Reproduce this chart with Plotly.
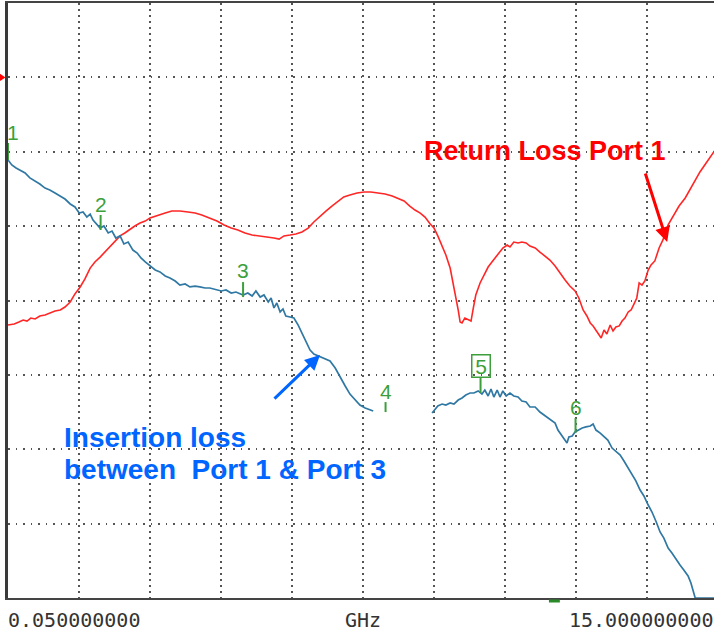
import plotly.graph_objects as go

# ---------------- data (GHz, dB) ----------------
ins_freq = [0.05, 0.13, 0.22, 0.30, 0.41, 0.51, 0.62, 0.72, 0.83, 0.93,
            1.04, 1.15, 1.25, 1.36, 1.46, 1.55, 1.63, 1.71, 1.78, 1.84,
            1.92, 1.99, 2.07, 2.16, 2.24, 2.32, 2.41, 2.49, 2.58, 2.68,
            2.77, 2.85, 2.94, 3.04, 3.15, 3.25, 3.36, 3.46, 3.57, 3.67,
            3.78, 3.88, 3.99, 4.09, 4.20, 4.30, 4.41, 4.54, 4.64, 4.75,
            4.85, 5.00, 5.10, 5.19, 5.27, 5.36, 5.44, 5.53, 5.59, 5.65,
            5.71, 5.78, 5.84, 5.90, 5.99, 6.07, 6.16, 6.24, 6.33, 6.41,
            6.49, 6.58, 6.70, 6.83, 6.94, 7.04, 7.15, 7.25, 7.36, 7.46,
            7.57, 7.67, 7.74, 8.30,
            8.98, 9.04, 9.10, 9.19, 9.27, 9.36, 9.44, 9.53, 9.61, 9.69,
            9.78, 9.86, 9.95, 10.03, 10.09, 10.16, 10.22, 10.28, 10.35, 10.41,
            10.47, 10.54, 10.62, 10.70, 10.79, 10.87, 10.96, 11.04, 11.15, 11.25,
            11.36, 11.46, 11.57, 11.63, 11.72, 11.78, 11.82, 11.86, 11.93, 11.99,
            12.05, 12.14, 12.22, 12.31, 12.37, 12.43, 12.52, 12.60, 12.68, 12.77,
            12.85, 12.94, 13.02, 13.11, 13.19, 13.27, 13.36, 13.44, 13.53, 13.61,
            13.70, 13.78, 13.86, 13.95, 14.03, 14.12, 14.20, 14.28, 14.37, 14.43,
            14.47, 14.52, 15.00]
ins_db = [-5.55, -5.89, -6.09, -6.23, -6.43, -6.76, -6.97, -7.17, -7.44, -7.57,
          -7.77, -7.97, -8.18, -8.51, -8.71, -9.12, -9.05, -9.39, -9.19, -9.59,
          -9.86, -10.13, -9.99, -10.46, -10.33, -10.80, -10.66, -11.20, -11.07, -11.61,
          -11.81, -12.14, -12.41, -12.68, -12.95, -13.08, -13.35, -13.49, -13.69, -13.96,
          -13.89, -14.09, -14.03, -14.09, -14.16, -14.16, -14.23, -14.36, -14.29, -14.50,
          -14.43, -14.63, -14.50, -14.70, -14.36, -14.77, -14.63, -15.10, -14.83, -15.50,
          -15.17, -15.77, -15.57, -16.04, -16.11, -16.18, -16.65, -17.18, -17.79, -18.33,
          -18.60, -18.73, -18.87, -19.07, -19.54, -20.14, -20.75, -21.29, -21.69, -22.03,
          -22.23, -22.36, -22.43, None,
          -22.56, -22.29, -22.09, -21.96, -22.03, -21.89, -21.96, -21.69, -21.55, -21.35,
          -21.22, -21.22, -21.08, -21.29, -21.02, -21.42, -20.95, -21.49, -21.02, -21.49,
          -21.08, -21.42, -21.22, -21.42, -21.49, -21.76, -21.82, -22.16, -22.16, -22.50,
          -22.76, -22.97, -23.24, -23.71, -24.11, -24.38, -24.58, -24.18, -24.11, -23.84,
          -23.71, -23.57, -23.50, -23.44, -23.30, -23.71, -23.91, -24.18, -24.38, -24.92,
          -25.12, -25.39, -25.79, -26.26, -26.73, -27.13, -27.74, -28.14, -28.75, -29.22,
          -29.89, -30.56, -30.97, -31.64, -31.97, -32.45, -32.78, -33.12, -33.52, -33.99,
          -34.46, -35.00, -35.00]

rl_freq = [0.05, 0.18, 0.28, 0.37, 0.45, 0.53, 0.62, 0.72, 0.83, 0.93,
           1.04, 1.15, 1.25, 1.36, 1.46, 1.57, 1.67, 1.78, 1.88, 1.99,
           2.09, 2.20, 2.30, 2.41, 2.51, 2.62, 2.72, 2.83, 2.94, 3.04,
           3.21, 3.36, 3.50, 3.67, 3.84, 3.99, 4.13, 4.30, 4.45, 4.60,
           4.75, 4.89, 5.04, 5.19, 5.36, 5.50, 5.65, 5.76, 5.86, 5.99,
           6.11, 6.24, 6.37, 6.49, 6.62, 6.75, 6.87, 7.00, 7.12, 7.25,
           7.40, 7.55, 7.69, 7.84, 7.99, 8.14, 8.26, 8.39, 8.51, 8.62,
           8.73, 8.83, 8.94, 9.02, 9.10, 9.19, 9.27, 9.36, 9.42, 9.48,
           9.53, 9.57, 9.61, 9.67, 9.74, 9.80, 9.84, 9.90, 9.99, 10.07,
           10.16, 10.24, 10.33, 10.41, 10.47, 10.56, 10.62, 10.70, 10.79, 10.87,
           10.96, 11.04, 11.15, 11.25, 11.36, 11.46, 11.57, 11.67, 11.78, 11.88,
           11.99, 12.07, 12.16, 12.24, 12.31, 12.37, 12.43, 12.49, 12.54, 12.60,
           12.66, 12.73, 12.79, 12.85, 12.92, 12.98, 13.04, 13.11, 13.17, 13.23,
           13.29, 13.34, 13.40, 13.46, 13.53, 13.59, 13.67, 13.76, 13.84, 13.95,
           14.05, 14.18, 14.31, 14.41, 14.52, 14.62, 14.75, 14.92, 15.00]
rl_db = [-16.65, -16.58, -16.45, -16.31, -16.38, -16.18, -16.24, -16.04, -15.97, -15.84,
         -15.71, -15.64, -15.44, -15.10, -14.56, -14.09, -13.55, -12.82, -12.41, -12.08,
         -11.74, -11.34, -11.07, -10.66, -10.46, -10.19, -9.99, -9.79, -9.66, -9.45,
         -9.25, -9.12, -8.98, -8.98, -9.05, -9.12, -9.25, -9.45, -9.66, -9.92,
         -10.13, -10.26, -10.46, -10.60, -10.66, -10.73, -10.80, -10.87, -10.66, -10.60,
         -10.53, -10.39, -10.13, -9.72, -9.32, -8.98, -8.65, -8.31, -8.04, -7.91,
         -7.77, -7.71, -7.71, -7.77, -7.84, -7.97, -8.11, -8.31, -8.65, -8.92,
         -9.12, -9.39, -9.86, -10.13, -10.66, -11.34, -11.94, -12.82, -13.76, -14.77,
         -15.64, -16.45, -16.51, -16.18, -16.31, -16.38, -15.64, -14.63, -13.82, -13.35,
         -12.75, -12.41, -12.01, -11.67, -11.47, -11.27, -11.40, -11.07, -11.13, -11.07,
         -11.13, -11.34, -11.47, -11.74, -12.01, -12.28, -12.68, -13.15, -13.62, -14.03,
         -14.36, -14.83, -15.64, -16.04, -16.51, -16.71, -16.98, -17.32, -17.52, -16.98,
         -17.25, -16.65, -17.05, -16.78, -16.71, -16.38, -16.18, -15.77, -15.64, -15.24,
         -14.83, -13.82, -13.96, -13.69, -12.95, -12.61, -12.34, -11.47, -10.93, -9.92,
         -9.39, -8.65, -8.11, -7.57, -6.90, -6.36, -5.76, -5.02, -4.61]

mk_labels = ["1", "2", "3", "4", "5", "6"]
mk_freq = [0.05, 2.0, 5.0, 8.0, 10.0, 12.0]
mk_db = [-5.55, -10.26, -14.77, -22.50, -21.22, -23.91]

start_label = "0.050000000"
stop_label = "15.000000000"
unit_label = "GHz"
rl_title = "Return Loss Port 1"
il_title_1 = "Insertion loss"
il_title_2 = "between\u00a0 Port 1 & Port 3"

if len(ins_freq) != len(ins_db) or len(rl_freq) != len(rl_db):
    raise ValueError("length mismatch %d %d %d %d" % (len(ins_freq), len(ins_db), len(rl_freq), len(rl_db)))

# ---------------- figure ----------------
W, H = 714, 633
ML, MR, MT, MB = 8, 0, 3, 35
PW, PH = W - ML - MR, H - MT - MB
DIV_X = 14.95 / 10.0
X0 = 0.05
X1 = X0 + (PW / 710.0) * 14.95
Y0, Y1 = -35.0, 5.0

GREEN = "#3c9f3c"
fig = go.Figure()
fig.add_trace(go.Scatter(x=rl_freq, y=rl_db, mode="lines",
                         line=dict(color="#ff2626", width=1.6), hoverinfo="skip",
                         showlegend=False))
fig.add_trace(go.Scatter(x=ins_freq, y=ins_db, mode="lines", connectgaps=False,
                         line=dict(color="#2f78a3", width=1.7), hoverinfo="skip",
                         showlegend=False))

annotations = []
shapes = []

tick_len = [17, 15, 15, 10, 15, 15]
label_shift = [27, 25, 27, 21, 27, 26]
for i, (lab, f, v) in enumerate(zip(mk_labels, mk_freq, mk_db)):
    shapes.append(dict(type="line", xref="x", yref="y", ysizemode="pixel", yanchor=v,
                       x0=f, x1=f, y0=0, y1=tick_len[i],
                       line=dict(color=GREEN, width=2)))
    ann = dict(x=f, y=v, xref="x", yref="y", text=lab, showarrow=False,
               yshift=label_shift[i], xshift=5 if i == 0 else 0,
               font=dict(family="Liberation Sans Narrow, Liberation Sans, Arial", size=21, color=GREEN))
    if lab == "5":
        ann.update(bordercolor=GREEN, borderwidth=1.5, borderpad=1, width=15, height=19)
    annotations.append(ann)

# text annotations
annotations.append(dict(x=8.77, y=-4.92, xref="x", yref="y", xanchor="left", yanchor="middle",
                        text="<b>%s</b>" % rl_title, showarrow=False,
                        font=dict(family="Liberation Sans, Arial", size=27, color="#ff0000")))
annotations.append(dict(x=1.19, y=-24.24, xref="x", yref="y", xanchor="left", yanchor="middle",
                        text="<b>%s</b>" % il_title_1, showarrow=False,
                        font=dict(family="Liberation Sans, Arial", size=28, color="#0066ff")))
annotations.append(dict(x=1.19, y=-26.39, xref="x", yref="y", xanchor="left", yanchor="middle",
                        text="<b>%s</b>" % il_title_2, showarrow=False,
                        font=dict(family="Liberation Sans, Arial", size=28, color="#0066ff")))
# arrows
annotations.append(dict(x=13.93, y=-11.07, ax=13.46, ay=-6.36, xref="x", yref="y",
                        axref="x", ayref="y", text="", showarrow=True, arrowhead=2,
                        arrowsize=1, arrowwidth=3, arrowcolor="#ff0000"))
annotations.append(dict(x=6.62, y=-18.66, ax=5.63, ay=-21.69, xref="x", yref="y",
                        axref="x", ayref="y", text="", showarrow=True, arrowhead=2,
                        arrowsize=1, arrowwidth=3, arrowcolor="#0066ff"))
# bottom labels
annotations.append(dict(x=0, y=-22 / PH, xref="paper", yref="paper", xanchor="left", yanchor="middle",
                        text=start_label, showarrow=False, xshift=-2,
                        font=dict(family="DejaVu Sans Mono", size=20, color="#333333")))
annotations.append(dict(x=(363 - ML) / PW, y=-22 / PH, xref="paper", yref="paper", xanchor="center",
                        yanchor="middle", text=unit_label, showarrow=False,
                        font=dict(family="DejaVu Sans Mono", size=20, color="#333333")))
annotations.append(dict(x=1, y=-22 / PH, xref="paper", yref="paper", xanchor="right", yanchor="middle",
                        text=stop_label, showarrow=False, xshift=2,
                        font=dict(family="DejaVu Sans Mono", size=20, color="#333333")))

# reference-level triangle on the left
hx = 4 * (Y1 - Y0) / PH
shapes.append(dict(type="path", xref="paper", yref="y",
                   path="M %f %f L %f 0 L %f %f Z" % (-8.5 / PW, hx, -2.5 / PW, -8.5 / PW, -hx),
                   fillcolor="#ff0000", line=dict(color="#ff0000", width=0)))
# small green marker bar under the axis
shapes.append(dict(type="line", xref="x", yref="paper", x0=11.44, x1=11.67,
                   y0=-3 / PH, y1=-3 / PH, line=dict(color="#2a8a2a", width=3)))

fig.update_layout(
    width=W, height=H, autosize=False,
    margin=dict(l=ML, r=MR, t=MT, b=MB, pad=0),
    paper_bgcolor="white", plot_bgcolor="white",
    showlegend=False,
    annotations=annotations, shapes=shapes,
    xaxis=dict(range=[X0, X1], tick0=X0, dtick=DIV_X, showticklabels=False, ticks="",
               showgrid=True, gridcolor="#555555", gridwidth=1.5, griddash="1.5px,4.5px",
               zeroline=False, showline=True, linecolor="#444444", linewidth=2, mirror=True,
               fixedrange=True),
    yaxis=dict(range=[Y0, Y1], tick0=0, dtick=5, showticklabels=False, ticks="",
               showgrid=True, gridcolor="#555555", gridwidth=1.5, griddash="1.5px,6px",
               zeroline=False, showline=True, linecolor="#3a3a3a", linewidth=3, mirror=False,
               fixedrange=True),
)

fig.write_html("out.html", config={"displayModeBar": False})

# remove the default page margin so the figure sits at the window's top-left corner
with open("out.html", "r", encoding="utf-8") as fh:
    page = fh.read()
page = page.replace("<head>", "<head><style>html,body{margin:0;padding:0;overflow:hidden;}</style>", 1)
with open("out.html", "w", encoding="utf-8") as fh:
    fh.write(page)
